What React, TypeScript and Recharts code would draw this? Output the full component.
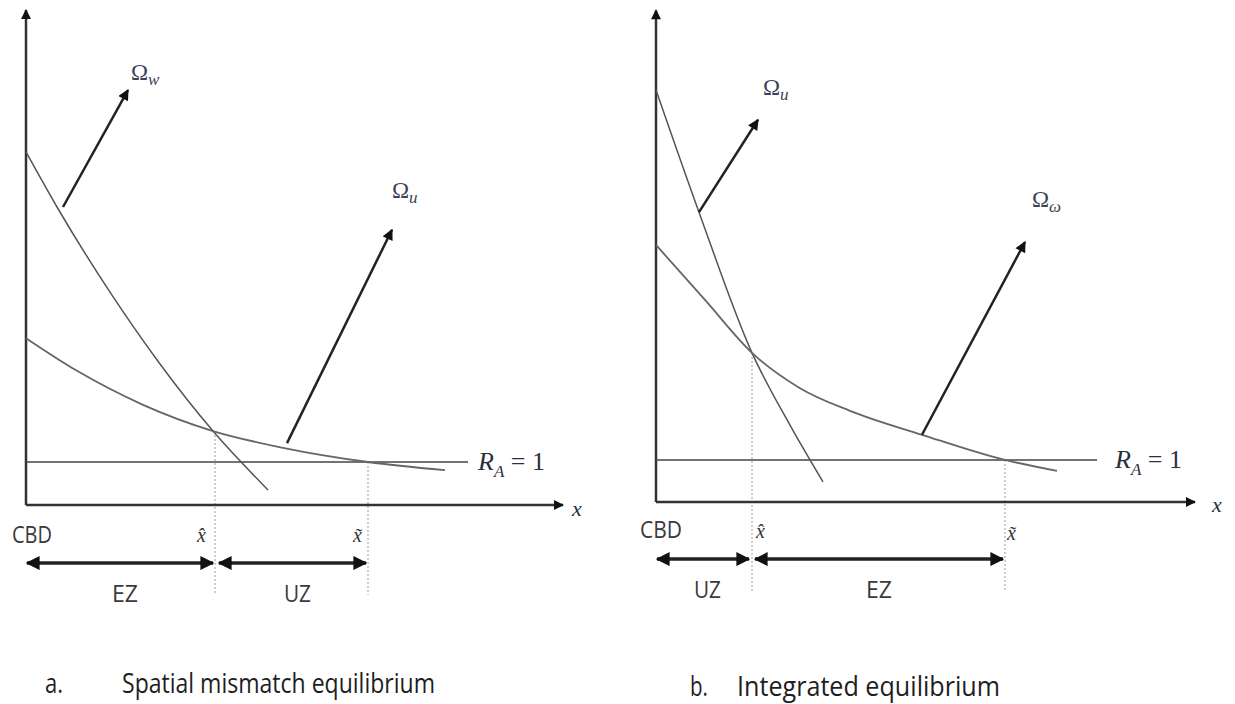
import React from 'react';
import { LineChart, Line, XAxis, YAxis, ReferenceDot } from 'recharts';

type Pt = { x: number; y: number };

// ---------- Panel a: spatial mismatch equilibrium ----------
const aOmegaW: Pt[] = [
  { x: 0, y: 8.21 }, { x: 0.62, y: 6.93 }, { x: 1.68, y: 4.95 },
  { x: 2.68, y: 3.28 }, { x: 3.74, y: 1.72 }, { x: 4.84, y: 0.35 },
];
const aOmegaU: Pt[] = [
  { x: 0, y: 3.88 }, { x: 1.02, y: 3.12 }, { x: 2.34, y: 2.33 }, { x: 3.74, y: 1.72 },
  { x: 5.14, y: 1.33 }, { x: 6.84, y: 1.0 }, { x: 8.38, y: 0.81 },
];
const aRA: Pt[] = [{ x: 0, y: 1 }, { x: 8.84, y: 1 }];
const aYAxis: Pt[] = [{ x: 0, y: 0 }, { x: 0, y: 11.51 }];
const aXAxis: Pt[] = [{ x: 0, y: 0 }, { x: 10.74, y: 0 }];
const aXHat: Pt[] = [{ x: 3.78, y: 1.72 }, { x: 3.78, y: -2.09 }];
const aXTilde: Pt[] = [{ x: 6.84, y: 1.0 }, { x: 6.84, y: -2.09 }];
const aArrowW: Pt[] = [{ x: 0.74, y: 6.93 }, { x: 2.04, y: 9.65 }];
const aArrowU: Pt[] = [{ x: 5.22, y: 1.44 }, { x: 7.32, y: 6.4 }];
const aZone1: Pt[] = [{ x: 0.02, y: -1.35 }, { x: 3.74, y: -1.35 }];
const aZone2: Pt[] = [{ x: 3.86, y: -1.35 }, { x: 6.8, y: -1.35 }];

// ---------- Panel b: integrated equilibrium ----------
const bOmegaU: Pt[] = [
  { x: 0, y: 9.81 }, { x: 0.86, y: 6.9 }, { x: 1.92, y: 3.55 },
  { x: 2.68, y: 1.83 }, { x: 3.34, y: 0.48 },
];
const bOmegaW: Pt[] = [
  { x: 0, y: 6.12 }, { x: 0.98, y: 4.81 }, { x: 1.92, y: 3.55 }, { x: 2.88, y: 2.71 },
  { x: 3.88, y: 2.17 }, { x: 5.32, y: 1.6 }, { x: 6.98, y: 1.0 }, { x: 8.02, y: 0.74 },
];
const bRA: Pt[] = [{ x: 0, y: 1 }, { x: 8.82, y: 1 }];
const bYAxis: Pt[] = [{ x: 0, y: 0 }, { x: 0, y: 11.71 }];
const bXAxis: Pt[] = [{ x: 0, y: 0 }, { x: 10.78, y: 0 }];
const bXHat: Pt[] = [{ x: 1.92, y: 3.55 }, { x: 1.92, y: -2.14 }];
const bXTilde: Pt[] = [{ x: 6.98, y: 1.0 }, { x: 6.98, y: -2.14 }];
const bArrowU: Pt[] = [{ x: 0.86, y: 6.9 }, { x: 2.04, y: 9.1 }];
const bArrowW: Pt[] = [{ x: 5.32, y: 1.6 }, { x: 7.38, y: 6.19 }];
const bZone1: Pt[] = [{ x: 0.02, y: -1.36 }, { x: 1.86, y: -1.36 }];
const bZone2: Pt[] = [{ x: 1.98, y: -1.36 }, { x: 6.94, y: -1.36 }];

// ---------- Text labels ----------
const aTitle = ['a.', 'Spatial mismatch equilibrium'];
const bTitle = ['b.', 'Integrated equilibrium'];
const zoneLabels = ['EZ', 'UZ'];

const H = 704;

const line = (key: string, data: Pt[], opts: any = {}) => (
  <Line
    key={key}
    data={data}
    dataKey="y"
    type={opts.type || 'linear'}
    stroke={opts.stroke || '#444'}
    strokeWidth={opts.w || 1.5}
    strokeDasharray={opts.dash}
    markerEnd={opts.end}
    markerStart={opts.start}
    dot={false}
    activeDot={false}
    isAnimationActive={false}
    legendType="none"
  />
);

const label = (key: string, x: number, y: number, render: (cx: number, cy: number) => React.ReactElement) => (
  <ReferenceDot
    key={key}
    x={x}
    y={y}
    r={0}
    ifOverflow="visible"
    shape={(p: any) => render(p.cx, p.cy)}
  />
);

const sans = '"Open Sans", "Noto Sans", sans-serif';
const serif = '"Liberation Serif", "DejaVu Serif", serif';

const omega = (sub: string) => (cx: number, cy: number) => (
  <text x={cx} y={cy} fontFamily={serif} fontSize={23} fill="#3b4256">
    Ω
    <tspan dy={5} fontSize={17} fontStyle="italic">{sub}</tspan>
  </text>
);

const ra = (cx: number, cy: number) => (
  <text x={cx} y={cy} fontFamily={serif} fontSize={26} fill="#2a2f40">
    <tspan fontStyle="italic">R</tspan>
    <tspan dy={7} fontSize={17} fontStyle="italic">A</tspan>
    <tspan dy={-7}>{' = 1'}</tspan>
  </text>
);

const plain = (s: string, size: number, len?: number, family = sans, italic = false, fill = '#3a3a3a') =>
  (cx: number, cy: number) => (
    <text
      x={cx}
      y={cy}
      fontFamily={family}
      fontSize={size}
      fill={fill}
      fontStyle={italic ? 'italic' : 'normal'}
      textLength={len}
      lengthAdjust={len ? 'spacingAndGlyphs' : undefined}
    >
      {s}
    </text>
  );

const markers = (id: string) => (
  <defs>
    <marker id={`${id}-ax`} viewBox="0 0 10 10" refX="9" refY="5" markerUnits="userSpaceOnUse" markerWidth="11" markerHeight="10" orient="auto-start-reverse">
      <path d="M0,0 L10,5 L0,10 z" fill="#111" />
    </marker>
    <marker id={`${id}-ar`} viewBox="0 0 10 10" refX="9" refY="5" markerUnits="userSpaceOnUse" markerWidth="13" markerHeight="11" orient="auto-start-reverse">
      <path d="M0,0 L10,5 L0,10 z" fill="#111" />
    </marker>
    <marker id={`${id}-z`} viewBox="0 0 10 10" refX="9" refY="5" markerUnits="userSpaceOnUse" markerWidth="14" markerHeight="14" orient="auto-start-reverse">
      <path d="M0,0 L10,5 L0,10 z" fill="#111" />
    </marker>
  </defs>
);

function PanelA() {
  const id = 'pa';
  return (
    <LineChart width={617} height={H} margin={{ top: 0, right: 0, bottom: 0, left: 0 }}>
      {markers(id)}
      <XAxis type="number" dataKey="x" domain={[-0.52, 11.82]} hide allowDataOverflow />
      <YAxis type="number" domain={[-4.628, 11.744]} hide allowDataOverflow />
      {line('xhat', aXHat, { stroke: '#9a9a9a', w: 1, dash: '2 2' })}
      {line('xtil', aXTilde, { stroke: '#9a9a9a', w: 1, dash: '2 2' })}
      {line('ya', aYAxis, { stroke: '#333', w: 2.5, end: `url(#${id}-ax)` })}
      {line('xa', aXAxis, { stroke: '#333', w: 2.5, end: `url(#${id}-ax)` })}
      {line('ra', aRA, { stroke: '#444', w: 1.6 })}
      {line('ow', aOmegaW, { type: 'monotone', stroke: '#555', w: 1.5 })}
      {line('ou', aOmegaU, { type: 'monotone', stroke: '#666', w: 1.8 })}
      {line('arw', aArrowW, { stroke: '#222', w: 2.5, end: `url(#${id}-ar)` })}
      {line('aru', aArrowU, { stroke: '#222', w: 2.5, end: `url(#${id}-ar)` })}
      {line('z1', aZone1, { stroke: '#222', w: 3.5, start: `url(#${id}-z)`, end: `url(#${id}-z)` })}
      {line('z2', aZone2, { stroke: '#222', w: 3.5, start: `url(#${id}-z)`, end: `url(#${id}-z)` })}
      {label('lw', 2.1, 9.88, omega('w'))}
      {label('lu', 7.32, 7.14, omega('u'))}
      {label('lra', 9.04, 0.81, ra)}
      {label('lx', 10.92, -0.26, plain('x', 22, undefined, serif, true, '#2a2f40'))}
      {label('cbd', -0.28, -0.88, plain('CBD', 23, 40))}
      {label('xh', 3.42, -0.86, plain('x\u0302', 20, undefined, serif, true, '#333'))}
      {label('xt', 6.54, -0.86, plain('x\u0303', 20, undefined, serif, true, '#333'))}
      {label('ez', 1.72, -2.26, plain(zoneLabels[0], 23, 26))}
      {label('uz', 5.16, -2.26, plain(zoneLabels[1], 23, 27))}
      {label('t1', 0.38, -4.38, plain(aTitle[0], 27, 18, sans, false, '#1e1e1e'))}
      {label('t2', 1.92, -4.38, plain(aTitle[1], 27, 313, sans, false, '#1e1e1e'))}
    </LineChart>
  );
}

function PanelB() {
  const id = 'pb';
  return (
    <LineChart width={618} height={H} margin={{ top: 0, right: 0, bottom: 0, left: 0 }}>
      {markers(id)}
      <XAxis type="number" dataKey="x" domain={[-0.78, 11.58]} hide allowDataOverflow />
      <YAxis type="number" domain={[-4.81, 11.952]} hide allowDataOverflow />
      {line('xhat', bXHat, { stroke: '#9a9a9a', w: 1, dash: '2 2' })}
      {line('xtil', bXTilde, { stroke: '#9a9a9a', w: 1, dash: '2 2' })}
      {line('ya', bYAxis, { stroke: '#333', w: 2.5, end: `url(#${id}-ax)` })}
      {line('xa', bXAxis, { stroke: '#333', w: 2.5, end: `url(#${id}-ax)` })}
      {line('ra', bRA, { stroke: '#444', w: 1.6 })}
      {line('ou', bOmegaU, { type: 'monotone', stroke: '#555', w: 1.5 })}
      {line('ow', bOmegaW, { type: 'monotone', stroke: '#666', w: 1.8 })}
      {line('aru', bArrowU, { stroke: '#222', w: 2.5, end: `url(#${id}-ar)` })}
      {line('arw', bArrowW, { stroke: '#222', w: 2.5, end: `url(#${id}-ar)` })}
      {line('z1', bZone1, { stroke: '#222', w: 3.5, start: `url(#${id}-z)`, end: `url(#${id}-z)` })}
      {line('z2', bZone2, { stroke: '#222', w: 3.5, start: `url(#${id}-z)`, end: `url(#${id}-z)` })}
      {label('lu', 2.14, 9.69, omega('u'))}
      {label('lw', 7.52, 7.02, omega('ω'))}
      {label('lra', 9.18, 0.81, ra)}
      {label('lx', 11.12, -0.24, plain('x', 22, undefined, serif, true, '#2a2f40'))}
      {label('cbd', -0.32, -0.86, plain('CBD', 23, 42))}
      {label('xh', 2.0, -0.86, plain('x\u0302', 20, undefined, serif, true, '#333'))}
      {label('xt', 7.02, -0.9, plain('x\u0303', 20, undefined, serif, true, '#333'))}
      {label('uz', 0.76, -2.29, plain(zoneLabels[1], 23, 27))}
      {label('ez', 4.2, -2.29, plain(zoneLabels[0], 23, 26))}
      {label('t1', 0.68, -4.62, plain(bTitle[0], 27, 18, sans, false, '#1e1e1e'))}
      {label('t2', 1.62, -4.62, plain(bTitle[1], 27, 263, sans, false, '#1e1e1e'))}
    </LineChart>
  );
}

export default function App() {
  return (
    <div style={{ position: 'fixed', left: 0, top: 0, width: 1235, height: 704, background: '#fff', display: 'flex' }}>
      <PanelA />
      <PanelB />
    </div>
  );
}
